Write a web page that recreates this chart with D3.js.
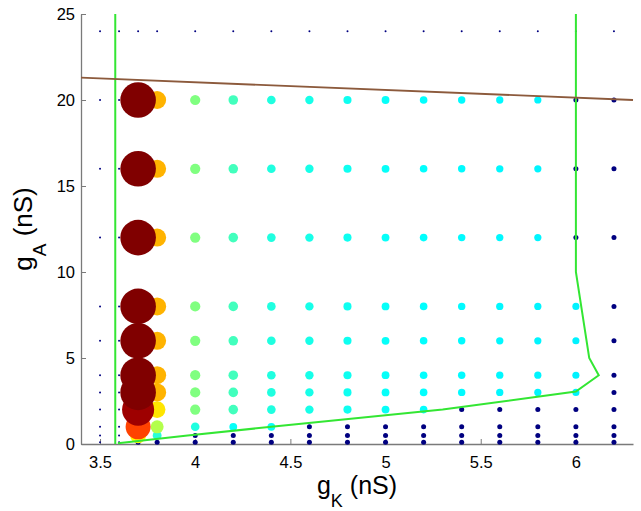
<!DOCTYPE html>
<html><head><meta charset="utf-8">
<script src="https://cdn.jsdelivr.net/npm/d3@7"></script>
<style>body{margin:0;background:#fff}svg{display:block}</style>
</head><body>
<svg id="c" width="641" height="511"></svg>
<script>
// ---- data ----
const gK = [3.5, 3.6, 3.7, 3.8, 4.0, 4.2, 4.4, 4.6, 4.8, 5.0, 5.2, 5.4, 5.6, 5.8, 6.0, 6.2];
const gA = [0.1, 0.5, 1, 2, 3, 4, 6, 8, 12, 16, 20, 24];
// one array per gA row, values along gK
const rate_gA24  = [0, 0, 0,   0,    0,   0,   0,   0,   0,   0,   0,   0,   0,   0,   0,   0];
const rate_gA20  = [0, 0, 100, 22.7, 6.0, 5.1, 3.9, 3.6, 3.3, 3.0, 2.8, 2.6, 2.5, 2.4, 0.8, 0.8];
const rate_gA16  = [0, 0, 100, 22.7, 6.0, 5.1, 3.9, 3.6, 3.3, 3.0, 2.8, 2.6, 2.5, 2.4, 0.8, 0.8];
const rate_gA12  = [0, 0, 100, 22.7, 6.0, 5.1, 3.9, 3.6, 3.3, 3.0, 2.8, 2.6, 2.5, 2.4, 0.8, 0.8];
const rate_gA8   = [0, 0, 100, 22.7, 6.0, 5.1, 3.9, 3.6, 3.3, 3.0, 2.8, 2.6, 2.5, 2.4, 2.3, 0.8];
const rate_gA6   = [0, 0, 100, 22.7, 6.0, 5.1, 3.9, 3.6, 3.3, 3.0, 2.8, 2.6, 2.5, 2.4, 2.3, 0.8];
const rate_gA4   = [0, 0, 100, 22.7, 6.0, 5.1, 3.9, 3.6, 3.3, 3.0, 2.8, 2.6, 2.5, 2.4, 2.3, 0.8];
const rate_gA3   = [0, 0, 100, 22.7, 6.0, 5.1, 3.9, 3.6, 3.3, 3.0, 2.8, 2.6, 2.5, 2.4, 2.3, 0.8];
const rate_gA2   = [0, 0, 80,  18.9, 6.0, 5.1, 3.9, 3.6, 3.3, 3.0, 2.8, 0.8, 0.8, 0.8, 0.8, 0.8];
const rate_gA1   = [0, 0, 47,  10.7, 3.9, 3.0, 3.0, 0.8, 0.8, 0.8, 0.8, 0.8, 0.8, 0.8, 0.8, 0.8];
const rate_gA0_5 = [0, 0, 17,  4.2,  0.8, 0.8, 0.8, 0.8, 0.8, 0.8, 0.8, 0.8, 0.8, 0.8, 0.8, 0.8];
const rate_gA0_1 = [0, 0, 0.8, 0.8,  0.8, 0.8, 0.8, 0.8, 0.8, 0.8, 0.8, 0.8, 0.8, 0.8, 0.8, 0.8];
const rateRows = [rate_gA0_1, rate_gA0_5, rate_gA1, rate_gA2, rate_gA3, rate_gA4,
                  rate_gA6, rate_gA8, rate_gA12, rate_gA16, rate_gA20, rate_gA24];

const xTicks = [3.5, 4, 4.5, 5, 5.5, 6];
const yTicks = [0, 5, 10, 15, 20, 25];

// boundary curves
const leftBoundaryK  = [3.58, 3.58];
const leftBoundaryA  = [0, 25];
const rightBoundaryK = [3.594, 3.96, 4.4, 5.3, 6.0, 6.12, 6.07, 6.0, 6.0];
const rightBoundaryA = [0.04, 0.5, 1.0, 2.0, 3.05, 4.0, 5.0, 10, 25];
const upperBoundaryK = [3.4, 6.3];
const upperBoundaryA = [21.3, 20.0];

// ---- chart ----
const svg = d3.select("#c");
const L = 81, R = 633, T = 14, B = 444;
const x = d3.scaleLinear().domain([3.4, 6.3]).range([L, R]);
const y = d3.scaleLinear().domain([0, 25]).range([B, T]);
const r = d3.scaleSqrt().domain([0, 100]).range([1, 17.8]);

function jet(t) {
  const c = v => Math.round(255 * Math.max(0, Math.min(1, v)));
  return `rgb(${c(1.5 - Math.abs(4*t - 3))},${c(1.5 - Math.abs(4*t - 2))},${c(1.5 - Math.abs(4*t - 1))})`;
}
const tScale = d3.scaleLinear()
  .domain([0, 0.8, 2.2, 3.9, 5.1, 6.0, 10.7, 18.9, 22.7, 46.9, 79.7, 100])
  .range([0, 0, 0.36, 0.405, 0.44, 0.5, 0.55, 0.65, 0.70, 0.81, 0.97, 1])
  .clamp(true);
const color = v => jet(tScale(v));

const gray = "#7a7a7a";
const font = "'Liberation Sans', Arial, sans-serif";

// axes
const xAxis = svg.append("g").attr("transform", `translate(0,${B})`)
  .call(d3.axisBottom(x).tickValues(xTicks).tickFormat(d3.format("")).tickSizeInner(-5).tickSizeOuter(0).tickPadding(12));
const yAxis = svg.append("g").attr("transform", `translate(${L},0)`)
  .call(d3.axisLeft(y).tickValues(yTicks).tickSizeInner(-5).tickSizeOuter(0).tickPadding(6));
[xAxis, yAxis].forEach(g => {
  g.select(".domain").attr("stroke", gray).attr("stroke-width", 1.3);
  g.selectAll(".tick line").attr("stroke", gray).attr("stroke-width", 1);
  g.selectAll(".tick text").attr("fill", "#000").style("font-family", font).style("font-size", "16.5px");
});

// points
const pts = [];
gA.forEach((a, i) => gK.forEach((k, j) => pts.push({k, a, v: rateRows[i][j]})));
pts.sort((p, q) => p.v - q.v);
svg.append("g").selectAll("circle").data(pts).join("circle")
  .attr("cx", d => x(d.k)).attr("cy", d => y(d.a))
  .attr("r", d => r(d.v))
  .attr("fill", d => color(d.v));

// boundary lines
const line = d3.line().x(d => x(d[0])).y(d => y(d[1]));
const green = "#33e633";
svg.append("path").datum(d3.zip(leftBoundaryK, leftBoundaryA)).attr("d", line)
  .attr("fill", "none").attr("stroke", green).attr("stroke-width", 2);
svg.append("path").datum(d3.zip(rightBoundaryK, rightBoundaryA)).attr("d", line)
  .attr("fill", "none").attr("stroke", green).attr("stroke-width", 2);
svg.append("path").datum(d3.zip(upperBoundaryK, upperBoundaryA)).attr("d", line)
  .attr("fill", "none").attr("stroke", "#8c5a3c").attr("stroke-width", 1.8);

// axis labels
const xl = svg.append("text").attr("x", (L + R) / 2).attr("y", 494)
  .attr("text-anchor", "middle").style("font-family", font).style("font-size", "25px");
xl.append("tspan").text("g");
xl.append("tspan").text("K").style("font-size", "18px").attr("dy", 13);
xl.append("tspan").text(" (nS)").attr("dy", -13);

const yl = svg.append("text").attr("transform", `translate(32,${(T + B) / 2}) rotate(-90)`)
  .attr("text-anchor", "middle").style("font-family", font).style("font-size", "26px");
yl.append("tspan").text("g");
yl.append("tspan").text("A").style("font-size", "19px").attr("dy", 14);
yl.append("tspan").text(" (nS)").attr("dy", -14);
</script>
</body></html>
